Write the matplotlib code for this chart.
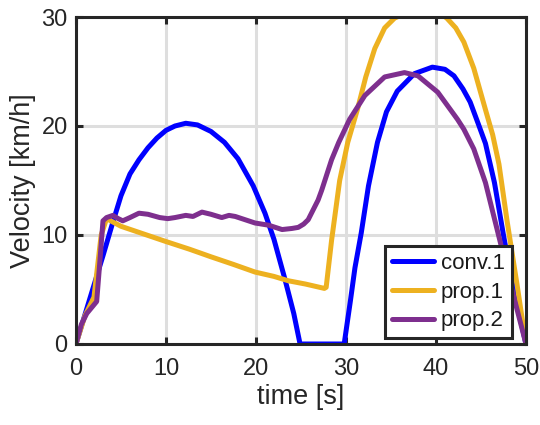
import matplotlib
matplotlib.use("Agg")
import matplotlib.pyplot as plt

plt.rcParams['font.family'] = ['Liberation Sans', 'DejaVu Sans']

# Velocity profiles (time in s, velocity in km/h)
conv1_t = [0, 1, 2, 3, 4, 5, 6, 7, 8, 9, 10, 11, 12.2, 13.5, 15, 16.5, 18, 19.7,
           21, 22, 23.2, 24.2, 24.9, 29.8, 30.5, 31, 31.7, 32.5, 33.5, 34.5, 35.7,
           37.6, 39.6, 41, 42, 43, 43.8, 44.7, 45.5, 46.5, 47.5, 48.5, 50]
conv1_v = [0, 2.7, 5.4, 8.1, 10.9, 13.6, 15.6, 16.9, 18.0, 18.9, 19.6, 20.0, 20.25, 20.1,
           19.5, 18.5, 17.0, 14.5, 12.0, 9.6, 6.0, 2.8, 0, 0, 4.0, 7.0, 10.2, 14.5,
           18.5, 21.3, 23.2, 24.8, 25.4, 25.2, 24.6, 23.4, 22.2, 20.2, 18.4, 14.8,
           10.0, 5.5, 0]

prop1_t = [0, 1, 2, 2.8, 3.4, 5, 7.5, 10, 12.6, 15, 17.5, 19.9, 22, 23.6, 25.5,
           27.6, 27.8, 28.4, 29.3, 30.2, 31.3, 32.2, 33.2, 34.3, 35.4, 36.5, 38.5,
           40.5, 41.2, 42.2, 43.1, 44.2, 45.5, 46.3, 47.0, 47.9, 49, 50]
prop1_v = [0, 2.6, 4.3, 10.0, 11.5, 10.8, 10.1, 9.4, 8.7, 8.0, 7.3, 6.6, 6.2, 5.8,
           5.5, 5.1, 5.2, 9.5, 15.0, 18.5, 21.6, 24.5, 27.1, 29.0, 29.9, 30.3, 30.4,
           30.3, 29.9, 29.0, 27.7, 25.3, 21.5, 19.2, 16.5, 11.3, 5.5, 0]

prop2_t = [0, 0.6, 1.2, 2.3, 2.6, 3.0, 3.4, 4.1, 4.7, 5.2, 6.0, 7.0, 8.0, 9.3, 10.2,
           11.0, 12.2, 13.0, 14.0, 15.0, 16.2, 17.0, 17.7, 18.8, 19.9, 21.4, 22.9,
           24.0, 24.7, 25.3, 25.8, 26.9, 27.3, 28.4, 29.2, 30.4, 32.1, 34.3, 36.5,
           38.0, 40.2, 42.4, 43.1, 44.2, 45.5, 47.1, 48.5, 50]
prop2_v = [0, 1.8, 2.8, 3.9, 7.0, 11.3, 11.6, 11.8, 11.5, 11.3, 11.6, 12.0, 11.9,
           11.6, 11.5, 11.6, 11.8, 11.7, 12.1, 11.9, 11.6, 11.8, 11.7, 11.4, 11.1,
           10.9, 10.5, 10.6, 10.7, 11.0, 11.4, 13.2, 14.1, 16.9, 18.5, 20.6, 22.8,
           24.5, 24.9, 24.6, 23.1, 20.6, 19.7, 17.9, 14.8, 9.5, 4.8, 0]

labels = ['conv.1', 'prop.1', 'prop.2']
colors = ['#0000FF', '#EDB120', '#7E2F8E']
x_ticks = [0, 10, 20, 30, 40, 50]
y_ticks = [0, 10, 20, 30]

fig = plt.figure(figsize=(5.4, 4.25), dpi=100)
ax = fig.add_axes([0.1407, 0.1906, 0.8333, 0.7694])

for t, v, lab, c in zip([conv1_t, prop1_t, prop2_t], [conv1_v, prop1_v, prop2_v],
                        labels, colors):
    ax.plot(t, v, color=c, linewidth=3.6, label=lab, solid_joinstyle='round',
            solid_capstyle='round')

ax.set_xlim(0, 50)
ax.set_ylim(0, 30)
ax.set_xticks(x_ticks)
ax.set_yticks(y_ticks)
ax.grid(True, color='#dedede', linewidth=2.2)
ax.set_axisbelow(True)

frame_col = '#262626'
for s in ax.spines.values():
    s.set_color(frame_col)
    s.set_linewidth(2.2)
    s.set_zorder(5)
ax.tick_params(direction='in', length=5, width=2.2, color=frame_col,
               top=True, right=True, labelsize=17, labelcolor=frame_col)
ax.tick_params(axis='x', pad=10)
ax.tick_params(axis='y', pad=6)

ax.set_xlabel('time [s]', fontsize=19.5, color=frame_col, labelpad=3)
ax.set_ylabel('Velocity [km/h]', fontsize=19.5, color=frame_col, labelpad=4)

leg = ax.legend(loc='lower right', bbox_to_anchor=(0.968, 0.018), fontsize=16,
                frameon=True, fancybox=False, handlelength=1.9, handletextpad=0.3,
                borderpad=0.3, labelspacing=0.35, borderaxespad=0.0)
leg.get_frame().set_edgecolor(frame_col)
leg.get_frame().set_linewidth(2.2)
leg.get_frame().set_alpha(1.0)
for line in leg.get_lines():
    line.set_linewidth(3.6)
for txt in leg.get_texts():
    txt.set_color('#1a1a1a')

fig.savefig('out.png', dpi=100)
